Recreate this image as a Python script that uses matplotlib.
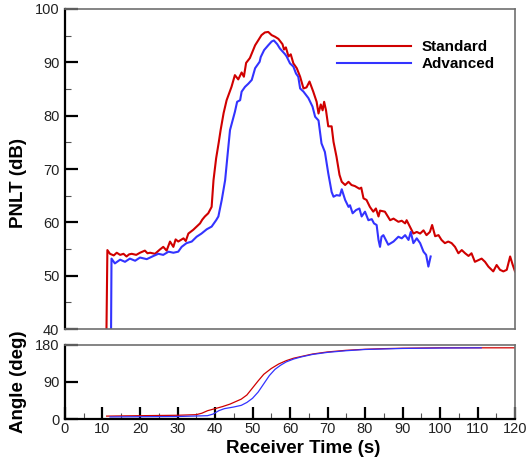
import numpy as np
import matplotlib
matplotlib.use("Agg")
import matplotlib.pyplot as plt
from matplotlib.ticker import MultipleLocator

# PNLT time histories (receiver time in s, level in dB)
std_time = [
  10.9, 11.3, 12.0, 13.0, 13.8, 14.7, 15.6, 16.4, 17.1, 17.8, 19.0, 20.0,
  21.3, 22.0, 22.7, 24.0, 25.3, 26.2, 27.1, 28.0, 28.9, 29.5, 30.2, 31.6,
  32.2, 32.9, 34.2, 35.1, 36.0, 36.6, 37.3, 38.2, 39.1, 39.6, 40.3, 41.0,
  41.5, 42.3, 43.1, 44.4, 45.3, 46.2, 47.1, 47.7, 48.3, 49.3, 50.7, 51.6,
  52.4, 53.3, 54.2, 55.1, 56.0, 56.9, 58.0, 58.4, 58.9, 59.6, 60.2, 60.9,
  61.8, 62.7, 63.6, 64.4, 65.2, 66.2, 67.1, 67.6, 68.2, 68.7, 69.1, 69.6,
  70.2, 71.1, 71.6, 72.4, 73.2, 73.8, 74.7, 75.6, 76.4, 77.3, 78.5, 79.0,
  79.6, 80.4, 81.3, 82.2, 82.9, 83.6, 84.0, 85.3, 86.7, 87.6, 88.9, 89.8,
  90.7, 91.1, 92.2, 92.9, 93.8, 94.7, 95.6, 96.4, 97.3, 97.9, 98.7, 99.6,
  100.4, 101.3, 102.2, 103.1, 104.0, 104.9, 105.8, 106.7, 107.6, 108.4,
  109.3, 110.2, 111.1, 112.0, 112.9, 114.2, 115.1, 116.0, 116.9, 117.8,
  118.7, 119.4, 120.0,
]
std_pnlt = [
  30.0, 54.8, 54.1, 53.8, 54.3, 53.9, 54.1, 53.6, 54.0, 54.1, 53.9, 54.3,
  54.7, 54.2, 54.3, 54.1, 54.9, 55.4, 54.7, 56.4, 55.4, 56.8, 56.4, 57.0,
  56.5, 57.9, 58.6, 59.2, 59.8, 60.5, 61.1, 61.7, 62.9, 67.9, 72.0, 75.0,
  77.3, 80.5, 82.9, 85.4, 87.6, 86.8, 88.1, 87.3, 89.9, 90.8, 93.2, 94.2,
  95.1, 95.6, 95.7, 95.1, 94.8, 94.4, 93.4, 92.4, 92.8, 91.1, 91.5, 89.8,
  88.9, 87.3, 85.1, 85.3, 86.4, 84.5, 82.6, 80.4, 82.1, 81.0, 82.6, 81.0,
  78.0, 78.0, 75.1, 72.3, 68.9, 67.6, 67.0, 67.6, 67.0, 66.8, 66.3, 66.5,
  64.5, 64.2, 62.9, 62.0, 62.6, 61.1, 62.2, 62.0, 60.4, 60.7, 60.1, 60.3,
  59.8, 60.4, 58.9, 57.9, 58.2, 57.9, 58.5, 57.6, 58.2, 59.5, 57.4, 57.6,
  56.7, 56.1, 56.4, 56.1, 55.4, 54.2, 54.8, 54.2, 53.7, 54.2,
  52.6, 52.9, 53.2, 52.6, 51.7, 50.8, 52.0, 51.1, 50.8, 51.1,
  53.6, 52.0, 50.8,
]

adv_time = [
  12.2, 12.4, 13.3, 14.7, 16.0, 17.3, 18.7, 20.0, 21.8, 23.6, 24.9, 26.2,
  27.6, 28.9, 30.2, 31.1, 32.4, 33.8, 35.1, 36.4, 37.8, 39.1, 40.3, 40.9,
  41.8, 42.7, 43.4, 44.0, 45.3, 45.9, 46.7, 47.1, 48.0, 48.9, 49.8, 50.7,
  51.9, 52.2, 53.1, 54.2, 55.1, 55.7, 56.6, 57.3, 58.7, 59.1, 60.0, 60.9,
  61.6, 62.2, 62.7, 63.6, 64.9, 66.0, 66.7, 67.6, 68.4, 69.3, 70.2, 71.1,
  71.6, 72.4, 73.3, 73.8, 74.7, 75.6, 76.0, 76.7, 77.6, 78.5, 79.1, 80.0,
  80.9, 81.8, 82.4, 83.1, 83.6, 84.0, 84.4, 84.9, 86.2, 87.6, 88.9, 89.8,
  90.7, 91.6, 92.2, 92.9, 93.8, 94.7, 95.6, 96.3, 96.9, 97.5,
]
adv_pnlt = [
  30.0, 53.2, 52.3, 53.0, 52.6, 53.2, 52.8, 53.4, 53.1, 53.7, 54.1, 53.9,
  54.5, 54.3, 54.5, 55.4, 56.1, 56.4, 57.3, 57.9, 58.7, 59.2, 60.4, 61.1,
  64.2, 67.9, 73.0, 77.3, 80.7, 82.6, 82.9, 84.5, 85.4, 86.0, 86.7, 88.9,
  90.1, 91.0, 92.3, 93.2, 93.9, 94.1, 93.4, 92.6, 91.5, 91.1, 89.8, 89.2,
  87.9, 87.3, 85.1, 84.5, 83.3, 81.7, 79.8, 79.1, 74.8, 73.2, 69.2, 65.7,
  64.8, 65.1, 65.0, 66.2, 64.2, 62.9, 63.2, 61.7, 62.3, 62.6, 61.1, 62.0,
  60.4, 60.6, 59.8, 59.5, 56.7, 55.4, 57.3, 57.6, 55.8, 56.4, 57.3, 57.0,
  57.6, 56.7, 58.2, 56.1, 57.0, 56.1, 54.5, 53.9, 51.7, 53.6,
]

# Emission angle histories (deg)
std_angle_time = [
  11.1, 15, 20, 25, 30, 35, 36.5, 38, 40, 42, 44, 45, 47, 48.5, 50, 51.5,
  53, 55, 57, 59, 61, 63, 66, 70, 75, 80, 85, 90, 100, 110, 120,
]
std_angle = [
  7, 7.5, 8, 8.5, 9, 10.5, 14, 20, 25, 30, 36, 40, 48, 58, 75, 92,
  108, 122, 133, 141, 147, 151, 157, 162, 166, 168.5, 170, 171, 172, 172, 172,
]
adv_angle_time = [
  12, 20, 30, 38, 39.5, 41, 42.5, 45, 47, 48.5, 50, 51.5, 53, 54.5, 56,
  57.5, 59, 61, 63, 66, 70, 75, 80, 90, 100, 111,
]
adv_angle = [
  5, 5.5, 6, 8, 12, 20, 25, 29, 33, 40, 50, 65, 85, 105, 120,
  130, 138, 145, 150, 156, 161, 165, 168, 170.5, 171.5, 172,
]

RED = '#d00000'
BLUE = '#3333ff'
FRAME = '#707070'


def style_frame(ax, thick):
  for side, spine in ax.spines.items():
    if side in thick:
      spine.set_color('black')
      spine.set_linewidth(1.6)
    else:
      spine.set_color(FRAME)
      spine.set_linewidth(1.2)


def main():
  plt.rcParams['font.family'] = ['Liberation Sans', 'DejaVu Sans']

  fig = plt.figure(figsize=(5.28, 4.61), dpi=100)

  # PNLT panel
  ax = fig.add_axes([0.1231, 0.2863, 0.8523, 0.6942])
  ax.plot(std_time, std_pnlt, color=RED, lw=1.5, label='Standard')
  ax.plot(adv_time, adv_pnlt, color=BLUE, lw=1.5, label='Advanced')
  ax.set_xlim(0, 120)
  ax.set_ylim(40, 100)
  ax.yaxis.set_major_locator(MultipleLocator(10))
  ax.yaxis.set_minor_locator(MultipleLocator(5))
  ax.tick_params(axis='y', which='major', direction='in', length=9,
                 width=1.6, labelsize=10.5, pad=4, colors='black',
                 labelcolor='#222222')
  ax.tick_params(axis='y', which='minor', direction='in', length=4.5,
                 width=0.8, color='#555555')
  ax.tick_params(axis='x', which='both', bottom=False, labelbottom=False)
  style_frame(ax, ['left'])
  ax.set_ylabel('PNLT (dB)', fontsize=13.5, fontweight='bold', va='center')
  ax.yaxis.set_label_coords(-0.104, 0.455)
  ax.legend(loc='upper right', bbox_to_anchor=(0.985, 0.945),
            frameon=False, handlelength=4.8, handletextpad=0.7,
            labelspacing=0.2, prop={'size': 11, 'weight': 'bold'})

  # Angle panel
  ax2 = fig.add_axes([0.1231, 0.0911, 0.8523, 0.1616])
  ax2.plot(std_angle_time, std_angle, color=RED, lw=0.9)
  ax2.plot(adv_angle_time, adv_angle, color=BLUE, lw=0.9)
  ax2.set_xlim(0, 120)
  ax2.set_ylim(0, 180)
  ax2.set_yticks([0, 90, 180])
  ax2.xaxis.set_major_locator(MultipleLocator(10))
  ax2.xaxis.set_minor_locator(MultipleLocator(5))
  ax2.tick_params(axis='both', which='major', direction='in', length=9,
                  width=1.6, labelsize=10.5, colors='black',
                  labelcolor='#222222')
  ax2.tick_params(axis='x', which='major', pad=2)
  ax2.tick_params(axis='y', which='major', pad=4)
  ax2.tick_params(axis='x', which='minor', direction='in', length=4.5,
                  width=0.8, color='#555555')
  style_frame(ax2, ['left', 'bottom'])
  ax2.set_ylabel('Angle (deg)', fontsize=13.5, fontweight='bold', va='center')
  ax2.yaxis.set_label_coords(-0.104, 0.5)
  ax2.set_xlabel('Receiver Time (s)', fontsize=13.5, fontweight='bold',
                 va='center')
  ax2.xaxis.set_label_coords(0.529, -0.39)

  fig.savefig('out.png', dpi=100)


if __name__ == "__main__":
  main()
